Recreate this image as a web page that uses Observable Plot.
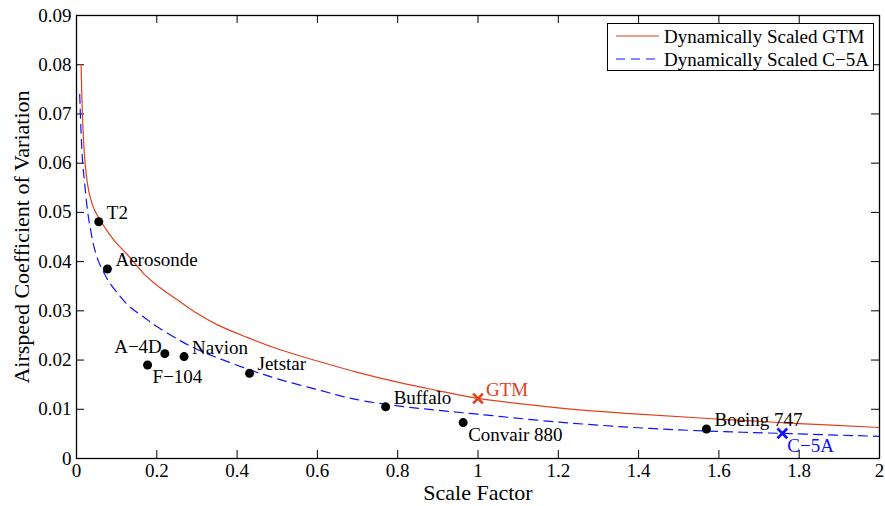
<!DOCTYPE html>
<html>
<head>
<meta charset="utf-8">
<script src="https://cdn.jsdelivr.net/npm/d3@7"></script>
<script src="https://cdn.jsdelivr.net/npm/@observablehq/plot@0.6"></script>
<style>
  html, body { margin: 0; padding: 0; background: white; }
  #wrap { position: relative; width: 885px; height: 506px; font-family: 'Liberation Serif', 'Times New Roman', serif; }
  #legend { position: absolute; left: 607px; top: 23px; width: 265px; height: 46px; border: 1px solid black; background: white; font-size: 19px; }
  #legend svg { position: absolute; left: 0; top: 0; }
</style>
</head>
<body>
<div id="wrap">
  <div id="chart"></div>
  <div id="legend"></div>
</div>
<script>
// ---- data ----
const aircraftNames = ["T2", "Aerosonde", "A\u22124D", "F\u2212104", "Navion", "Jetstar", "Buffalo", "Convair 880", "Boeing 747"];
const aircraftScale = [0.0555, 0.077, 0.22, 0.177, 0.268, 0.431, 0.77, 0.963, 1.569];
const aircraftCoV   = [0.0481, 0.0385, 0.0213, 0.019, 0.0207, 0.0173, 0.0105, 0.0073, 0.006];

const refNames = ["GTM", "C\u22125A"];
const refScale = [1.0, 1.758];
const refCoV   = [0.0122, 0.0051];

const gtmCurveX = [0.0115,0.013,0.015,0.018,0.022,0.028,0.035,0.045,0.06,0.08,0.1,0.126,0.168,0.2,0.259,0.3,0.35,0.425,0.5,0.6,0.7,0.8,0.9,1.0,1.2,1.4,1.6,1.8,2.0];
const gtmCurveY = [0.080,0.0745,0.0695,0.0640,0.0595,0.0555,0.0528,0.0505,0.0483,0.0458,0.0437,0.0415,0.0375,0.0352,0.0318,0.0295,0.0272,0.0246,0.0223,0.0198,0.0175,0.0155,0.0138,0.0122,0.0103,0.0090,0.0080,0.0071,0.0063];

const c5aCurveX = [0.008,0.011,0.015,0.02,0.028,0.035,0.043,0.055,0.068,0.08,0.1,0.13,0.168,0.2,0.259,0.3,0.35,0.425,0.5,0.6,0.69,0.8,0.9,1.0,1.2,1.43,1.6,1.758,2.0];
const c5aCurveY = [0.074,0.067,0.0605,0.0561,0.050,0.0465,0.0432,0.040,0.0378,0.0360,0.0338,0.031,0.0287,0.0268,0.0239,0.0222,0.0205,0.0182,0.0162,0.0140,0.0121,0.0107,0.0098,0.0090,0.0074,0.0061,0.0055,0.0051,0.0045];

const xTicks = [0,0.2,0.4,0.6,0.8,1,1.2,1.4,1.6,1.8,2];
const yTicks = [0,0.01,0.02,0.03,0.04,0.05,0.06,0.07,0.08,0.09];

const legendLabels = ["Dynamically Scaled GTM", "Dynamically Scaled C\u22125A"];
const xLabel = "Scale Factor";
const yLabel = "Airspeed Coefficient of Variation";

// ---- build ----
const FONT = "'Liberation Serif', 'Times New Roman', serif";
const RED = "#e2401c";
const BLUE = "#1010ff";
const W = 885, H = 506, mL = 76, mR = 6, mT = 15, mB = 48;
const frameW = W - mL - mR, frameH = H - mT - mB, tickLen = 8;

const aircraft = aircraftNames.map((n, i) => ({name: n, x: aircraftScale[i], y: aircraftCoV[i]}));
const refs = refNames.map((n, i) => ({name: n, x: refScale[i], y: refCoV[i]}));
const gtm = gtmCurveX.map((x, i) => ({x, y: gtmCurveY[i]}));
const c5a = c5aCurveX.map((x, i) => ({x, y: c5aCurveY[i]}));

const aboveRight = new Set(["T2", "Aerosonde", "Navion", "Jetstar", "Buffalo", "Boeing 747"]);
const belowRight = new Set(["F\u2212104", "Convair 880"]);
const aboveLeft = new Set(["A\u22124D"]);

const fmtX = d => String(+d.toFixed(1));
const fmtY = d => String(+d.toFixed(2));

const chart = Plot.plot({
  width: W, height: H,
  marginLeft: mL, marginRight: mR, marginTop: mT, marginBottom: mB,
  style: {fontFamily: FONT, fontSize: "19px", background: "white", color: "black"},
  x: {domain: [0, 2], ticks: xTicks, tickFormat: fmtX},
  y: {domain: [0, 0.09], ticks: yTicks, tickFormat: fmtY},
  marks: [
    Plot.axisX(xTicks, {tickSize: 0, tickPadding: 5, tickFormat: fmtX, label: null, fontSize: 19}),
    Plot.axisY(yTicks, {tickSize: 0, tickPadding: 5, tickFormat: fmtY, label: null, fontSize: 19}),
    Plot.tickX(xTicks, {x: d => d, insetTop: frameH - tickLen, stroke: "black", strokeWidth: 1}),
    Plot.tickX(xTicks, {x: d => d, insetBottom: frameH - tickLen, stroke: "black", strokeWidth: 1}),
    Plot.tickY(yTicks, {y: d => d, insetRight: frameW - tickLen, stroke: "black", strokeWidth: 1}),
    Plot.tickY(yTicks, {y: d => d, insetLeft: frameW - tickLen, stroke: "black", strokeWidth: 1}),
    Plot.line(gtm, {x: "x", y: "y", stroke: RED, strokeWidth: 1.2, curve: "catmull-rom"}),
    Plot.line(c5a, {x: "x", y: "y", stroke: BLUE, strokeWidth: 1.2, strokeDasharray: "9,6", curve: "catmull-rom"}),
    Plot.dot(aircraft, {x: "x", y: "y", r: 4.5, fill: "black", stroke: null}),
    Plot.dot(refs, {x: "x", y: "y", symbol: "times", r: 4.5, stroke: (d, i) => i === 0 ? RED : BLUE, strokeWidth: 2.6}),
    Plot.text(aircraft.filter(d => aboveRight.has(d.name)), {x: "x", y: "y", text: "name", textAnchor: "start", dx: 8, dy: -9, fontSize: 19, fill: "black"}),
    Plot.text(aircraft.filter(d => belowRight.has(d.name)), {x: "x", y: "y", text: "name", textAnchor: "start", dx: 5, dy: 12, fontSize: 19, fill: "black"}),
    Plot.text(aircraft.filter(d => aboveLeft.has(d.name)), {x: "x", y: "y", text: "name", textAnchor: "end", dx: -3, dy: -7, fontSize: 19, fill: "black"}),
    Plot.text(refs.filter((d, i) => i === 0), {x: "x", y: "y", text: "name", textAnchor: "start", dx: 8, dy: -9, fontSize: 19, fill: RED}),
    Plot.text(refs.filter((d, i) => i === 1), {x: "x", y: "y", text: "name", textAnchor: "start", dx: 5, dy: 13, fontSize: 19, fill: BLUE}),
    Plot.text([xLabel], {frameAnchor: "bottom", dy: 41, fontSize: 22, fill: "black", textAnchor: "middle"}),
    Plot.text([yLabel], {frameAnchor: "left", dx: -55, rotate: -90, fontSize: 22, fill: "black", textAnchor: "middle"}),
    Plot.frame({stroke: "black", strokeWidth: 1.3})
  ]
});
document.getElementById("chart").appendChild(chart);

// ---- legend ----
const lg = d3.select("#legend").append("svg").attr("width", 265).attr("height", 46);
const styles = [{stroke: RED, dash: null}, {stroke: BLUE, dash: "9,6"}];
legendLabels.forEach((t, i) => {
  const yy = 12 + i * 23;
  lg.append("line").attr("x1", 8).attr("x2", 51).attr("y1", yy).attr("y2", yy)
    .attr("stroke", styles[i].stroke).attr("stroke-width", 1.2)
    .attr("stroke-dasharray", styles[i].dash);
  lg.append("text").attr("x", 56).attr("y", yy).attr("dy", "0.35em")
    .attr("font-family", FONT)
    .attr("font-size", 19).attr("fill", "black").text(t);
});
</script>
</body>
</html>
